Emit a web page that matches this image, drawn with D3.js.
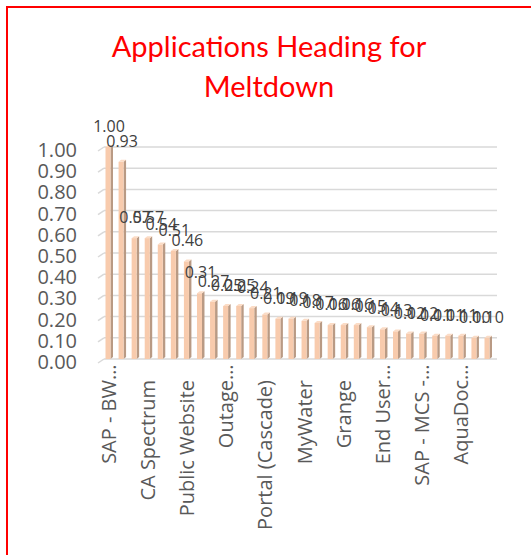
<!DOCTYPE html>
<html>
<head>
<meta charset="utf-8">
<script src="https://cdn.jsdelivr.net/npm/d3@7"></script>
<style>
  html, body { margin: 0; padding: 0; background: #fff; }
  svg { display: block; }
  text { font-family: "Open Sans", sans-serif; }
</style>
</head>
<body>
<svg id="chart" width="531" height="555"></svg>
<script>
// Relative load score per application, sorted from highest to lowest
const scores = [1.00, 0.93, 0.57, 0.57, 0.54, 0.51, 0.46, 0.31, 0.27, 0.25,
                0.25, 0.24, 0.21, 0.19, 0.19, 0.18, 0.17, 0.16, 0.16, 0.16,
                0.15, 0.14, 0.13, 0.12, 0.12, 0.11, 0.11, 0.11, 0.10, 0.10];
// Only every third application name fits under the axis
const tickLabels = ["SAP - BW…", "CA Spectrum", "Public Website", "Outage…",
                    "Portal (Cascade)", "MyWater", "Grange", "End User…",
                    "SAP - MCS -…", "AquaDoc…"];
const yTicks = [0, 0.1, 0.2, 0.3, 0.4, 0.5, 0.6, 0.7, 0.8, 0.9, 1.0];
const titleLines = ["Applications Heading for", "Meltdown"];

const svg = d3.select("#chart");

// chart frame
svg.append("rect")
  .attr("x", 7).attr("y", 7).attr("width", 560).attr("height", 580)
  .attr("fill", "none").attr("stroke", "#ff0000").attr("stroke-width", 2);

// title
const title = svg.append("text")
  .attr("text-anchor", "middle")
  .attr("fill", "#ff0000")
  .style("font-family", "Lato, 'Open Sans', sans-serif")
  .style("font-size", "29px");
titleLines.forEach((t, i) => {
  title.append("tspan").attr("x", 269).attr("y", 57 + i * 40).text(t);
});

const idx = d3.range(scores.length);
const x = d3.scalePoint().domain(idx).range([108, 487]);
const y = d3.scaleLinear().domain([0, 1]).range([359, 147]);

// back-wall gridlines with a short floor-perspective stub on the left
const grid = svg.append("g");
yTicks.forEach(v => {
  grid.append("line")
    .attr("x1", 104).attr("x2", 497)
    .attr("y1", y(v)).attr("y2", y(v))
    .attr("stroke", "#d9d9d9").attr("stroke-width", 1.5);
  grid.append("line")
    .attr("x1", 98).attr("x2", 104)
    .attr("y1", y(v) + 4).attr("y2", y(v))
    .attr("stroke", "#d9d9d9").attr("stroke-width", 1.5);
});

// y axis labels
const yAxis = svg.append("g")
  .attr("transform", "translate(77,3)")
  .call(d3.axisLeft(y).tickValues(yTicks).tickFormat(d3.format(".2f")).tickSize(0).tickPadding(0));
yAxis.select(".domain").remove();
yAxis.selectAll("text")
  .style("font-family", "'Open Sans', sans-serif")
  .style("font-size", "20px")
  .attr("fill", "#595959");

// 3D columns: right side, top and front face
const bw = 5, dx = 2.5, dy = 2;
const bars = svg.append("g").selectAll("g").data(idx).join("g");
bars.append("path")
  .attr("d", i => {
    const x0 = x(i) + bw / 2, t = y(scores[i]), b = y(0);
    return `M${x0},${t}L${x0 + dx},${t - dy}L${x0 + dx},${b - dy}L${x0},${b}Z`;
  })
  .attr("fill", "#b99a84");
bars.append("path")
  .attr("d", i => {
    const x0 = x(i) - bw / 2, t = y(scores[i]);
    return `M${x0},${t}L${x0 + dx},${t - dy}L${x0 + bw + dx},${t - dy}L${x0 + bw},${t}Z`;
  })
  .attr("fill", "#fbdcc6");
bars.append("rect")
  .attr("x", i => x(i) - bw / 2)
  .attr("y", i => y(scores[i]))
  .attr("width", bw)
  .attr("height", i => y(0) - y(scores[i]))
  .attr("fill", "#f8cbad");

// value labels above each column
svg.append("g").selectAll("text").data(idx).join("text")
  .attr("x", i => x(i) + 1)
  .attr("y", i => y(scores[i]) - 15)
  .attr("text-anchor", "middle")
  .attr("fill", "#404040")
  .style("font-size", "16px")
  .text(i => scores[i].toFixed(2));

// category axis, one name per three columns, rotated;
// a truncation mark runs on past the label box toward the axis
const xAxis = svg.append("g")
  .attr("transform", "translate(0,380)")
  .call(d3.axisBottom(x)
    .tickValues(idx.filter(i => i % 3 === 0))
    .tickFormat(i => tickLabels[i / 3])
    .tickSize(0).tickPadding(0));
xAxis.select(".domain").remove();
xAxis.selectAll(".tick").each(function (i) {
  const tick = d3.select(this);
  const full = tickLabels[i / 3];
  const cut = full.endsWith("…");
  const style = s => s
    .attr("transform", "rotate(-90)")
    .attr("x", 0).attr("y", 0).attr("dy", "0.35em")
    .attr("fill", "#595959")
    .style("font-family", "'Open Sans', sans-serif")
    .style("font-size", "20px");
  tick.select("text").call(style)
    .attr("text-anchor", "end")
    .text(cut ? full.slice(0, -1) : full);
  if (cut) {
    tick.append("text").call(style)
      .attr("text-anchor", "start")
      .text("…");
  }
});
</script>
</body>
</html>
